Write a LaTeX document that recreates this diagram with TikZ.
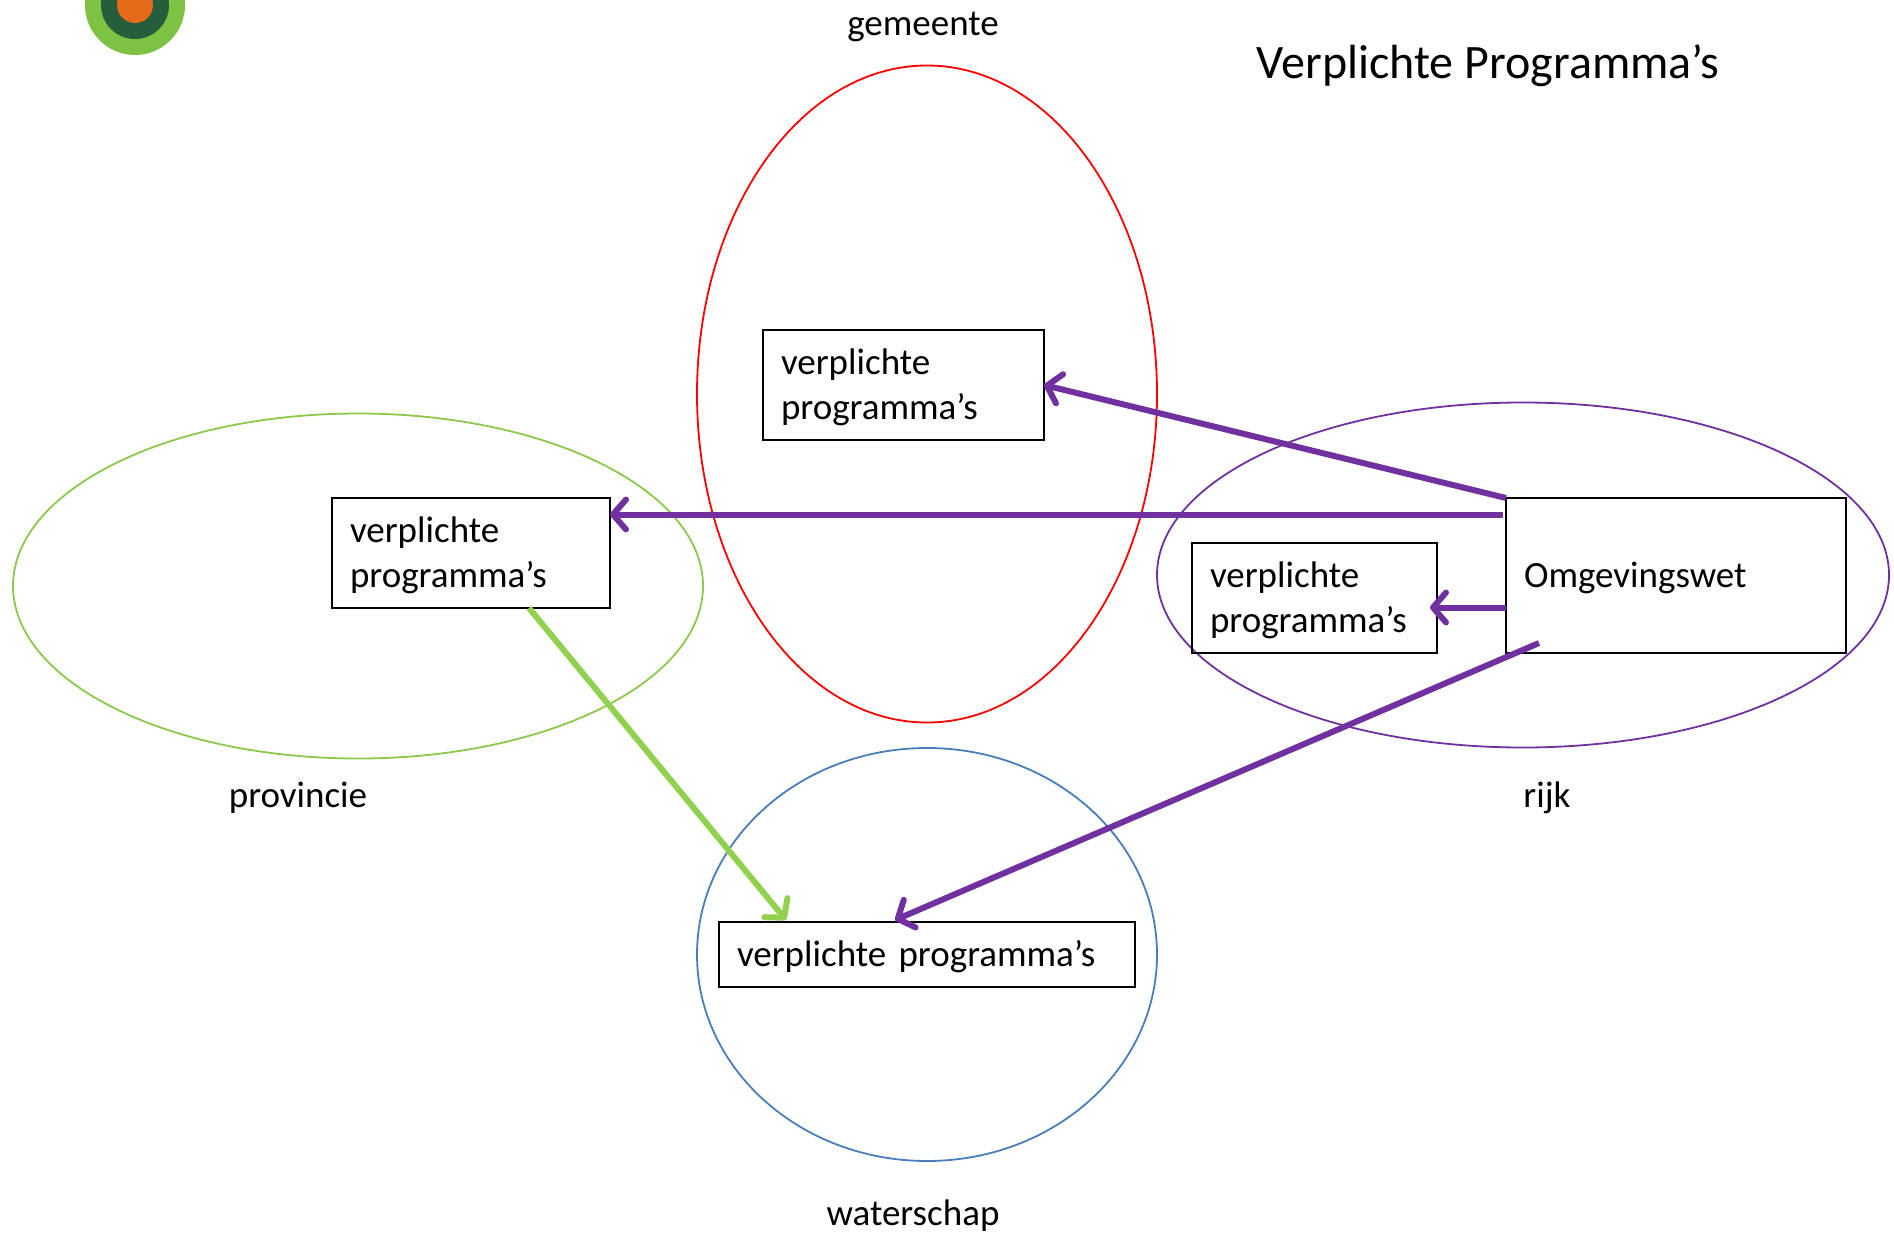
\documentclass[tikz,border=0pt]{standalone}
\usepackage{fontspec}
\setmainfont{Carlito}
\usetikzlibrary{arrows.meta,shapes.geometric}
\definecolor{purp}{HTML}{7030A0}
\definecolor{lgreen}{HTML}{92D050}
\definecolor{provgreen}{HTML}{8CC84B}
\definecolor{wblue}{HTML}{4A7EBB}
\definecolor{ringg}{HTML}{7DC242}
\definecolor{ringd}{HTML}{265D3A}
\definecolor{ringo}{HTML}{E56B1A}
\newcommand{\dl}[1]{\raisebox{-12pt}[0pt][0pt]{#1}}
\tikzset{
  region/.style={draw,ellipse,line width=1.8pt,inner sep=0pt,outer sep=0pt},
  boxn/.style={draw=black,line width=2.2pt,rectangle,inner sep=0pt,inner xsep=18pt,outer sep=0pt,align=left,font=\fontsize{37}{45}\selectfont},
  lab/.style={font=\fontsize{37}{44}\selectfont,inner sep=0pt},
  link/.style={line width=6pt,-{Straight Barb[round,length=13pt,width=30pt,line width=6pt]}},
}
\begin{document}
\begin{tikzpicture}[x=1pt,y=-1pt]
\useasboundingbox (0,0) rectangle (1894,1236);
\clip (0,0) rectangle (1894,1236);
\fill[ringg] (135,5) circle[radius=50];
\fill[ringd] (135,5) circle[radius=34];
\fill[ringo] (135,5) circle[radius=18];
\node[region,draw=red,minimum width=460pt,minimum height=657pt] (gem) at (927,394) {};
\node[region,draw=provgreen,minimum width=690pt,minimum height=345pt] (prov) at (358,586) {};
\node[region,draw=purp,minimum width=732pt,minimum height=345pt] (rijk) at (1523,575) {};
\node[region,draw=wblue,minimum width=460pt,minimum height=413pt] (wat) at (927,954.5) {};
\node[boxn,text width=245pt,minimum height=110pt] (gbox) at (903.5,385) {\dl{verplichte}\\\dl{programma’s}};
\node[boxn,text width=242pt,minimum height=110pt] (pbox) at (471,553) {\dl{verplichte}\\\dl{programma’s}};
\node[boxn,text width=209pt,minimum height=110pt] (rbox) at (1314.5,598) {\dl{verplichte}\\\dl{programma’s}};
\node[boxn,text width=304pt,minimum height=155pt] (omg) at (1676,575.5) {\dl{Omgevingswet}};
\node[boxn,text width=380pt,minimum height=65pt] (wbox) at (927,954.5) {\dl{verplichte programma’s}};
\node[lab] (tgem) at (923,27) {gemeente};
\node[lab,font=\fontsize{48}{56}\selectfont] (title) at (1488,66) {Verplichte Programma’s};
\node[lab] (tprov) at (298,798) {provincie};
\node[lab] (trijk) at (1547,798) {rijk};
\node[lab] (twat) at (913,1216) {waterschap};
\draw[link,purp] (omg.north west) -- (gbox.east);
\draw[link,purp] ([xshift=-3pt,yshift=-16.5pt]omg.north west) -- ([yshift=38.5pt]pbox.east);
\draw[link,purp] ([yshift=-32pt]omg.west) -- ([xshift=-7pt,yshift=-9.5pt]rbox.east);
\draw[link,purp] ([xshift=33pt,yshift=10pt]omg.south west) -- ([xshift=-32pt,yshift=2pt]wbox.north);
\draw[link,lgreen] ([xshift=-81pt]pbox.south east) -- ([xshift=67pt,yshift=2pt]wbox.north west);
\end{tikzpicture}
\end{document}
